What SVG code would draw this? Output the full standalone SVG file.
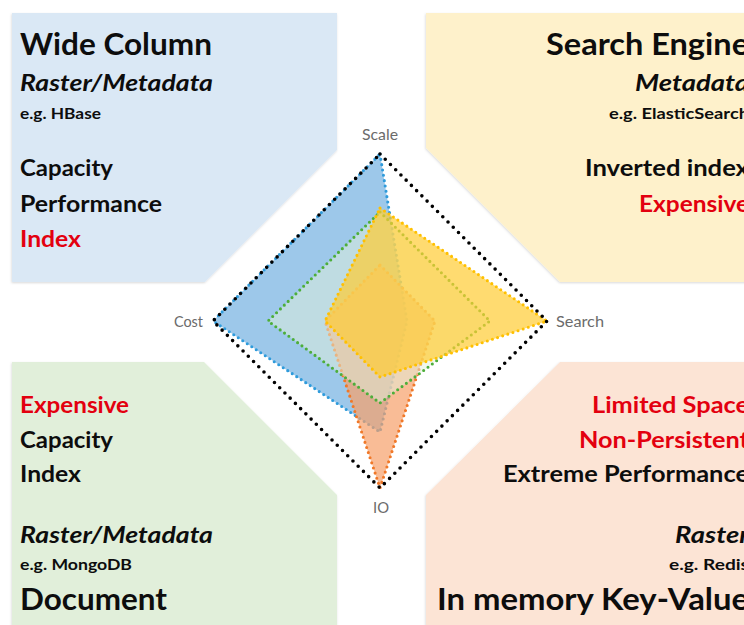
<svg xmlns="http://www.w3.org/2000/svg" width="744" height="625" viewBox="0 0 744 625">
  <style>
    .t { font-family: Lato, "Open Sans", "Liberation Sans", sans-serif; font-weight: bold; fill: #0d0d0d; }
    .title { font-size: 30px; }
    .body { font-size: 23px; }
    .ital { font-size: 23px; font-style: italic; }
    .small { font-size: 16px; }
    .red { fill: #e3000f; }
    .end { text-anchor: end; }
    .axis { font-family: Lato, "Open Sans", "Liberation Sans", sans-serif; font-size: 15px; fill: #6b6b6b; }
    .series { stroke-width: 3.1; stroke-linecap: round; stroke-dasharray: 0 5.4; stroke-linejoin: round; }
    .frame { fill: none; stroke: #000; stroke-width: 3.6; stroke-linecap: round; stroke-dasharray: 0 7.4; }
    .panel { filter: url(#sh); }
  </style>
  <defs>
    <filter id="sh" x="-5%" y="-5%" width="110%" height="110%">
      <feDropShadow dx="-0.5" dy="1" stdDeviation="1" flood-color="#000" flood-opacity="0.15"/>
    </filter>
  </defs>
  <rect width="744" height="625" fill="#ffffff"/>

  <g id="wide-column">
    <path class="panel" d="M12,13 H337 V150 L205,282 H12 Z" fill="#dae8f5"/>
    <text class="t title" x="20" y="55" textLength="192" lengthAdjust="spacingAndGlyphs">Wide Column</text>
    <text class="t ital" x="20" y="91" textLength="193" lengthAdjust="spacingAndGlyphs">Raster/Metadata</text>
    <text class="t small" x="20" y="119" textLength="81" lengthAdjust="spacingAndGlyphs">e.g. HBase</text>
    <text class="t body" x="20" y="176" textLength="93" lengthAdjust="spacingAndGlyphs">Capacity</text>
    <text class="t body" x="20" y="212" textLength="142" lengthAdjust="spacingAndGlyphs">Performance</text>
    <text class="t body red" x="20" y="247" textLength="61" lengthAdjust="spacingAndGlyphs">Index</text>
  </g>

  <g id="search-engine">
    <path class="panel" d="M426,13 H770 V282 H560 L426,148 Z" fill="#fef1cb"/>
    <text class="t title end" x="749" y="55" textLength="203" lengthAdjust="spacingAndGlyphs">Search Engine</text>
    <text class="t ital end" x="749" y="91" textLength="114" lengthAdjust="spacingAndGlyphs">Metadata</text>
    <text class="t small end" x="749" y="119" textLength="140" lengthAdjust="spacingAndGlyphs">e.g. ElasticSearch</text>
    <text class="t body end" x="749" y="176" textLength="164" lengthAdjust="spacingAndGlyphs">Inverted index</text>
    <text class="t body end red" x="749" y="212" textLength="110" lengthAdjust="spacingAndGlyphs">Expensive</text>
  </g>

  <g id="document">
    <path class="panel" d="M12,362 H204 L337,495 V640 H12 Z" fill="#e1efda"/>
    <text class="t body red" x="20" y="413" textLength="109" lengthAdjust="spacingAndGlyphs">Expensive</text>
    <text class="t body" x="20" y="448" textLength="93" lengthAdjust="spacingAndGlyphs">Capacity</text>
    <text class="t body" x="20" y="482" textLength="61" lengthAdjust="spacingAndGlyphs">Index</text>
    <text class="t ital" x="20" y="543" textLength="193" lengthAdjust="spacingAndGlyphs">Raster/Metadata</text>
    <text class="t small" x="20" y="570" textLength="112" lengthAdjust="spacingAndGlyphs">e.g. MongoDB</text>
    <text class="t title" x="20" y="610" textLength="147" lengthAdjust="spacingAndGlyphs">Document</text>
  </g>

  <g id="key-value">
    <path class="panel" d="M560,362 H770 V640 H426 V495 Z" fill="#fce4d5"/>
    <text class="t body end red" x="749" y="413" textLength="157" lengthAdjust="spacingAndGlyphs">Limited Space</text>
    <text class="t body end red" x="749" y="448" textLength="170" lengthAdjust="spacingAndGlyphs">Non-Persistent</text>
    <text class="t body end" x="749" y="482" textLength="246" lengthAdjust="spacingAndGlyphs">Extreme Performance</text>
    <text class="t ital end" x="749" y="543" textLength="74" lengthAdjust="spacingAndGlyphs">Raster</text>
    <text class="t small end" x="749" y="570" textLength="80" lengthAdjust="spacingAndGlyphs">e.g. Redis</text>
    <text class="t title end" x="749" y="610" textLength="312" lengthAdjust="spacingAndGlyphs">In memory Key-Value</text>
  </g>

  <g id="radar">
    <polygon id="series-wide-column" class="series" points="380,154 407,321 380,432 213,321" fill="#5ba3dc" fill-opacity="0.6" stroke="#2f9bdb"/>
    <polygon id="series-key-value" class="series" points="380,265 435,321 380,488 325,321" fill="#f6a06a" fill-opacity="0.7" stroke="#f07828"/>
    <polygon id="series-document" class="series" points="380,212 490,321 380,403 268,321" fill="#e2f0d9" fill-opacity="0.5" stroke="#4dae3a"/>
    <polygon id="series-search-engine" class="series" points="380,208 547,321 380,377 325,321" fill="#ffcc33" fill-opacity="0.7" stroke="#ffc000"/>
    <polygon id="frame" class="frame" points="380,154 547,321 380,488 213,321"/>
    <text class="axis" x="380" y="140" text-anchor="middle" textLength="36" lengthAdjust="spacingAndGlyphs">Scale</text>
    <text class="axis" x="203" y="327" text-anchor="end" textLength="29" lengthAdjust="spacingAndGlyphs">Cost</text>
    <text class="axis" x="556" y="327" textLength="48" lengthAdjust="spacingAndGlyphs">Search</text>
    <text class="axis" x="381" y="513" text-anchor="middle" textLength="16" lengthAdjust="spacingAndGlyphs">IO</text>
  </g>
</svg>
